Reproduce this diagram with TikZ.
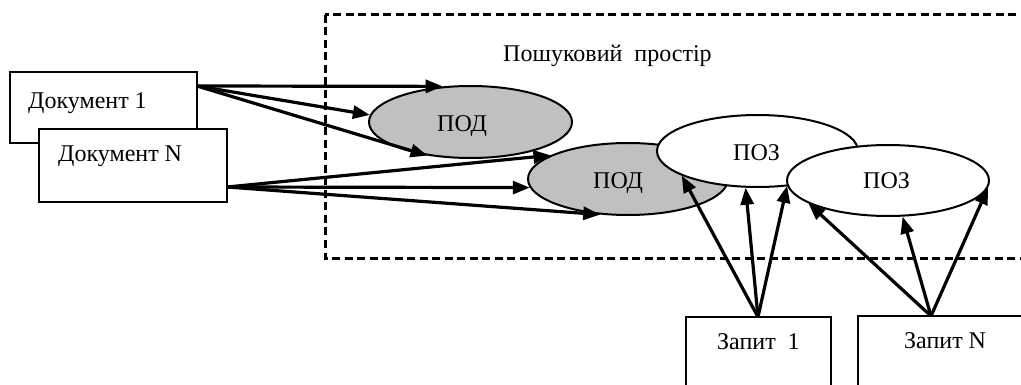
\documentclass[tikz,border=0pt]{standalone}
\usepackage{fontspec}
\setmainfont{Liberation Serif}
\usetikzlibrary{shapes.geometric,arrows.meta}
\definecolor{podgray}{HTML}{C0C0C0}
\tikzset{
  txt/.style={anchor=base west, inner sep=0pt, font=\fontsize{24}{28}\selectfont},
  docbox/.style={draw=black, line width=1.6pt, fill=white},
  ell/.style={ellipse, draw=black, line width=2pt, inner sep=0pt},
  arr/.style={line width=3.2pt, -{Triangle[length=17pt,width=13pt]}},
  area/.style={draw=black, line width=3pt, dash pattern=on 8pt off 4.5pt}
}
\begin{document}
\begin{tikzpicture}[x=1pt,y=-1pt]
\useasboundingbox (0,0) rectangle (1021,385);
\clip (0,0) rectangle (1021,385);
% search space
\draw[area] (325,15) rectangle (1040,258);
\node[txt] (sp) at (503,62) {Пошуковий\ \ простір};
% documents
\draw[docbox] (10,72) rectangle (197,143);
\node[inner sep=0pt, minimum width=187pt, minimum height=71pt] (d1) at (103.5,107.5) {};
\node[txt] (d1t) at (28,109) {Документ 1};
\draw[docbox] (39,129) rectangle (227,202);
\node[inner sep=0pt, minimum width=188pt, minimum height=73pt] (dN) at (133,165.5) {};
\node[txt] (dNt) at (58,162) {Документ N};
% queries
\draw[docbox] (686,317) rectangle (831,400);
\node[inner sep=0pt, minimum width=145pt, minimum height=83pt] (q1) at (758.5,358.5) {};
\node[txt] (q1t) at (717,349) {Запит\ \ 1};
\draw[docbox] (858,316) rectangle (1040,400);
\node[inner sep=0pt, minimum width=182pt, minimum height=84pt] (qN) at (949,358) {};
\node[txt] (qNt) at (904,348) {Запит N};
% ellipses
\node[ell, fill=podgray, minimum width=203pt, minimum height=72pt] (e1) at (470.5,122) {};
\node[txt] (e1t) at (437,132) {ПОД};
\node[ell, fill=podgray, minimum width=200pt, minimum height=72pt] (e2) at (628,179) {};
\node[txt] (e2t) at (593,189) {ПОД};
\node[ell, fill=white, minimum width=201pt, minimum height=72pt] (e3) at (757.5,151) {};
\node[txt] (e3t) at (733,161) {ПОЗ};
\node[ell, fill=white, minimum width=202pt, minimum height=71pt] (e4) at (888,180.5) {};
\node[txt] (e4t) at (863,189) {ПОЗ};
% connector origins
\coordinate (d1o) at (197,86);
\coordinate (dNo) at (227,187);
\coordinate (q1o) at (758,317);
\coordinate (qNo) at (931,316);
% arrows from documents
\draw[arr] (d1o) -- (e1.128.4);
\draw[arr] (d1o) -- (e1.176.6);
\draw[arr] (d1o) -- (e1.218.8);
\draw[arr] (dNo) -- (e2.163.2);
\draw[arr] (dNo) -- (e2.185);
\draw[arr] (dNo) -- (e2.232);
% arrows from queries
\draw[arr] (q1o) -- (e3.198.8);
\draw[arr] (q1o) -- (e3.252.7);
\draw[arr] (q1o) -- (e4.183);
\draw[arr] (qNo) -- (e4.196.8);
\draw[arr] (qNo) -- (e4.292.9);
\draw[arr] (qNo) -- (e4.356.3);
\end{tikzpicture}
\end{document}
